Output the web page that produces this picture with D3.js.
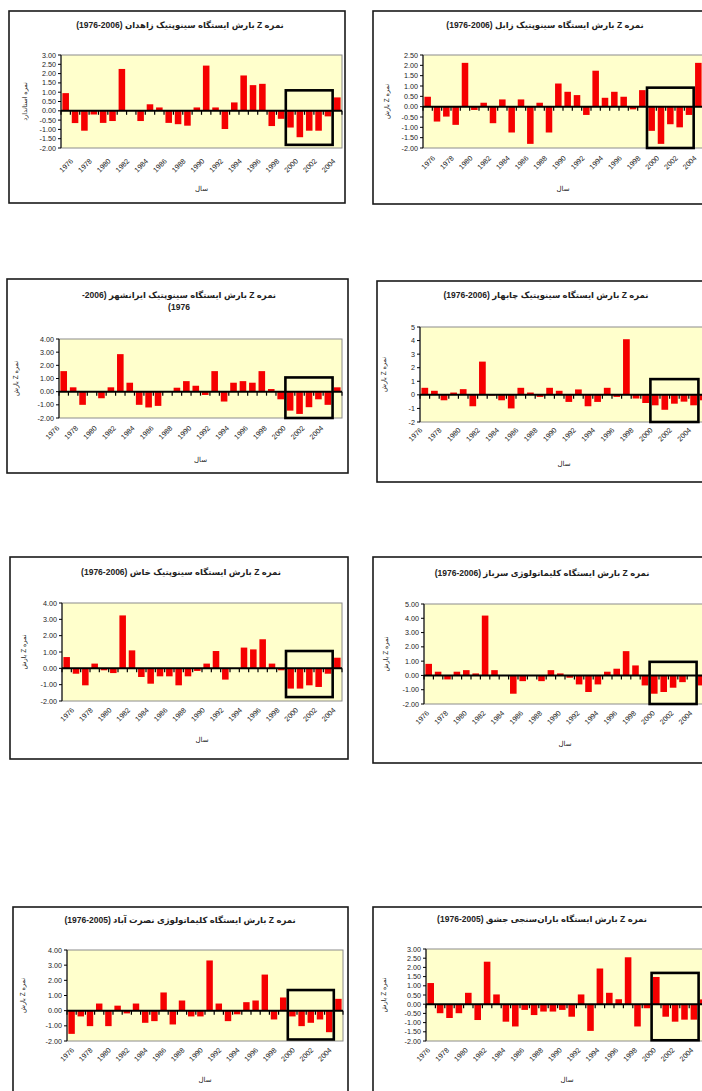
<!DOCTYPE html>
<html><head><meta charset="utf-8">
<script src="https://cdn.jsdelivr.net/npm/d3@7"></script>
<style>
body{margin:0;background:#fff;}
svg{display:block;}
text{font-family:"Liberation Sans","DejaVu Sans",Arial,sans-serif;fill:#222;}
</style></head><body>
<svg id="c" width="702" height="1091"></svg>
<script>
// ---------- DATA ----------
const years = ["1976","1977","1978","1979","1980","1981","1982","1983","1984","1985",
               "1986","1987","1988","1989","1990","1991","1992","1993","1994","1995",
               "1996","1997","1998","1999","2000","2001","2002","2003","2004","2005"];

const zahedanZ    = [0.95,-0.66,-1.07,-0.2,-0.65,-0.55,2.25,0.02,-0.55,0.35,0.18,-0.65,-0.72,-0.8,0.18,2.43,0.18,-0.98,0.45,1.9,1.38,1.45,-0.82,-0.43,-0.9,-1.42,-1.07,-1.07,-0.3,0.72];
const zabolZ      = [0.48,-0.72,-0.48,-0.88,2.12,-0.16,0.19,-0.8,0.35,-1.25,0.35,-1.8,0.19,-1.25,1.12,0.72,0.56,-0.4,1.74,0.43,0.72,0.48,-0.13,0.8,-1.17,-1.8,-0.85,-1.0,-0.4,2.12];
const iranshahrZ  = [1.56,0.33,-1.0,0.0,-0.5,0.33,2.85,0.68,-1.0,-1.2,-1.08,0.0,0.3,0.8,0.45,-0.25,1.56,-0.75,0.68,0.8,0.68,1.56,0.2,-0.58,-1.44,-1.69,-1.18,-0.58,-1.0,0.33];
const chabaharZ   = [0.52,0.3,-0.4,0.17,0.42,-0.84,2.45,-0.05,-0.4,-1.0,0.52,0.17,-0.15,0.52,0.3,-0.52,0.4,-0.84,-0.52,0.52,-0.15,4.1,-0.27,-0.6,-0.77,-1.1,-0.65,-0.5,-0.77,-0.4];
const khashZ      = [0.69,-0.33,-1.04,0.29,-0.12,-0.29,3.24,1.1,-0.53,-0.94,-0.49,-0.49,-1.04,-0.49,-0.16,0.29,1.06,-0.69,0.0,1.27,1.16,1.78,0.29,-0.12,-1.24,-1.24,-1.04,-1.14,-0.33,0.65];
const sarbazZ     = [0.81,0.26,-0.28,0.26,0.37,0.14,4.19,0.37,0.0,-1.28,-0.4,0.0,-0.4,0.37,0.14,-0.16,-0.63,-1.16,-0.63,0.26,0.47,1.7,0.7,-0.7,-1.28,-1.16,-0.86,-0.47,0.0,-0.7];
const nosratabadZ = [-1.53,-0.38,-1.02,0.47,-1.02,0.33,-0.18,0.47,-0.8,-0.69,1.2,-0.91,0.67,-0.38,-0.38,3.31,0.47,-0.69,-0.24,0.56,0.67,2.38,-0.58,0.87,-0.38,-1.02,-0.8,-0.58,-1.42,0.78];
const jashqZ      = [1.15,-0.49,-0.75,-0.49,0.62,-0.86,2.31,0.53,-0.95,-1.21,-0.31,-0.59,-0.4,-0.4,-0.31,-0.68,0.53,-1.45,1.94,0.62,0.27,2.55,-1.21,-0.22,1.48,-0.68,-0.95,-0.84,-0.84,0.26];

const ticksHalf3  = [-2,-1.5,-1,-0.5,0,0.5,1,1.5,2,2.5,3];
const ticksHalf25 = [-2,-1.5,-1,-0.5,0,0.5,1,1.5,2,2.5];
const ticksOne4   = [-2,-1,0,1,2,3,4];
const ticksOne5   = [-2,-1,0,1,2,3,4,5];

const titles = [
  ["نمره Z بارش ایستگاه سینوپتیک زاهدان (2006-1976)"],
  ["نمره Z بارش ایستگاه سینوپتیک زابل (2006-1976)"],
  ["نمره Z بارش ایستگاه سینوپتیک ایرانشهر (2006-", "1976)"],
  ["نمره Z بارش ایستگاه سینوپتیک چابهار (2006-1976)"],
  ["نمره Z بارش ایستگاه سینوپتیک خاش (2006-1976)"],
  ["نمره Z بارش ایستگاه کلیماتولوژی سرباز (2006-1976)"],
  ["نمره Z بارش ایستگاه کلیماتولوژی نصرت آباد (2005-1976)"],
  ["نمره Z بارش ایستگاه باران‌سنجی جشق (2005-1976)"]
];
const yTitles = ["نمره استاندارد","نمره Z بارش","نمره Z بارش","نمره Z بارش","نمره Z بارش","نمره Z بارش","نمره Z بارش","نمره Z بارش"];
const xTitle = "سال";
const highlightYears = ["2000","2004"];
const boxTop    = [1.1, 0.92, 1.08, 1.16, 1.06, 0.95, 1.36, 1.7];
const boxBottom = [-1.83, -2.0, -2.0, -2.0, -1.76, -2.0, -1.9, -1.96];

// ---------- LAYOUT ----------
const series = [zahedanZ, zabolZ, iranshahrZ, chabaharZ, khashZ, sarbazZ, nosratabadZ, jashqZ];
const tickSets = [ticksHalf3, ticksHalf25, ticksOne4, ticksOne5, ticksOne4, ticksOne5, ticksOne4, ticksHalf3];
const decimals = [2,2,2,0,2,2,2,2];
const layout = [
  {frame:[9,11,345,203],   plot:[61,55,342,148],   titleX:180, titleY:[28],      yTitleX:27,  xTitleY:191, labelTop:158, labelDx:8},
  {frame:[373,11,712,204], plot:[423,55,703,148],  titleX:545, titleY:[28],      yTitleX:389, xTitleY:191, labelTop:155, labelDx:8},
  {frame:[7,279,348,473],  plot:[59,339,342,418],  titleX:179, titleY:[298,310], yTitleX:18,  xTitleY:462, labelTop:425, labelDx:-4},
  {frame:[377,281,714,482],plot:[420,327,708,422], titleX:546, titleY:[298],     yTitleX:386, xTitleY:466, labelTop:427, labelDx:-2},
  {frame:[10,557,348,759], plot:[62,603,342,701],  titleX:181, titleY:[575],     yTitleX:26,  xTitleY:742, labelTop:707, labelDx:8},
  {frame:[373,557,712,763],plot:[424,604,706,704], titleX:542, titleY:[576],     yTitleX:388, xTitleY:746, labelTop:710, labelDx:1},
  {frame:[13,907,348,1110],plot:[67,950,343,1041], titleX:180, titleY:[923],     yTitleX:25,  xTitleY:1082, labelTop:1047, labelDx:3},
  {frame:[373,907,712,1110],plot:[426,949,708,1041],titleX:542, titleY:[922],    yTitleX:386, xTitleY:1082, labelTop:1047, labelDx:0}
];

const svg = d3.select("#c");

series.forEach((vals, i) => {
  const L = layout[i];
  const ticks = tickSets[i];
  const g = svg.append("g");
  const [fx0, fy0, fx1, fy1] = L.frame;
  const [px0, py0, px1, py1] = L.plot;

  g.append("rect").attr("x", fx0).attr("y", fy0).attr("width", fx1 - fx0).attr("height", fy1 - fy0)
    .attr("fill", "#fff").attr("stroke", "#1a1a1a").attr("stroke-width", 1.6);

  const x = d3.scaleBand().domain(years).range([px0, px1]).paddingInner(0.3).paddingOuter(0.15);
  const y = d3.scaleLinear().domain([d3.min(ticks), d3.max(ticks)]).range([py1, py0]);
  const step = x.step();
  const edge = yr => x(yr) - (step - x.bandwidth()) / 2;

  g.append("rect").attr("x", px0).attr("y", py0).attr("width", px1 - px0).attr("height", py1 - py0)
    .attr("fill", "#ffffcc").attr("stroke", "#8c8c8c").attr("stroke-width", 1);

  g.selectAll("rect.bar").data(vals.map((v, k) => ({v, yr: years[k]}))).enter().append("rect")
    .attr("class", "bar")
    .attr("x", d => x(d.yr)).attr("width", x.bandwidth())
    .attr("y", d => y(Math.max(0, d.v)))
    .attr("height", d => Math.abs(y(d.v) - y(0)))
    .attr("fill", "#f50000");

  g.append("line").attr("x1", px0).attr("x2", px1).attr("y1", y(0)).attr("y2", y(0))
    .attr("stroke", "#000").attr("stroke-width", 2);
  g.selectAll("line.xt").data(years.concat(["end"])).enter().append("line")
    .attr("x1", (d, k) => k < years.length ? edge(d) : px1)
    .attr("x2", (d, k) => k < years.length ? edge(d) : px1)
    .attr("y1", y(0)).attr("y2", y(0) + 4).attr("stroke", "#000").attr("stroke-width", 1.2);

  g.append("line").attr("x1", px0).attr("x2", px0).attr("y1", py0).attr("y2", py1)
    .attr("stroke", "#000").attr("stroke-width", 1);
  g.selectAll("line.yt").data(ticks).enter().append("line")
    .attr("x1", px0 - 3).attr("x2", px0).attr("y1", d => y(d)).attr("y2", d => y(d))
    .attr("stroke", "#000").attr("stroke-width", 1);
  g.selectAll("text.yl").data(ticks).enter().append("text")
    .attr("x", px0 - 5).attr("y", d => y(d) + 2.5)
    .attr("text-anchor", "end").attr("font-size", 7.2)
    .text(d => d.toFixed(decimals[i]));

  g.selectAll("text.xl").data(years.filter((d, k) => k % 2 === 0)).enter().append("text")
    .attr("font-size", 7.2).attr("text-anchor", "end")
    .attr("transform", d => `translate(${x(d) + x.bandwidth() / 2 + L.labelDx},${L.labelTop + 3.6}) rotate(-45)`)
    .text(d => d);

  const bx0 = edge(highlightYears[0]);
  const bx1 = edge(highlightYears[1]) + step;
  g.append("rect").attr("x", bx0).attr("y", y(boxTop[i]))
    .attr("width", bx1 - bx0).attr("height", y(boxBottom[i]) - y(boxTop[i]))
    .attr("fill", "none").attr("stroke", "#000").attr("stroke-width", 2.6);

  titles[i].forEach((t, j) => {
    g.append("text").attr("x", L.titleX).attr("y", L.titleY[j])
      .attr("text-anchor", "middle").attr("direction", "rtl")
      .attr("font-size", 8.5).attr("font-weight", "bold").text(t);
  });
  g.append("text").attr("transform", `translate(${L.yTitleX},${(py0 + py1) / 2}) rotate(-90)`)
    .attr("text-anchor", "middle").attr("direction", "rtl").attr("font-size", 6.5).text(yTitles[i]);
  g.append("text").attr("x", (px0 + px1) / 2).attr("y", L.xTitleY)
    .attr("text-anchor", "middle").attr("direction", "rtl").attr("font-size", 7).text(xTitle);
});
</script>
</body></html>
